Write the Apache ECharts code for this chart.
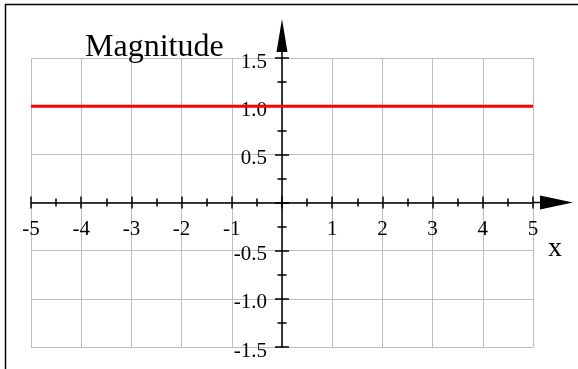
<!DOCTYPE html>
<html>
<head>
<meta charset="utf-8">
<script src="https://cdn.jsdelivr.net/npm/echarts@6/dist/echarts.min.js"></script>
<style>
  html, body { margin: 0; padding: 0; background: #fff; }
  #chart { width: 578px; height: 369px; }
</style>
</head>
<body>
<div id="chart"></div>
<script>
// ---- data ----
const xValues = [-5, 5];
const magnitude = [1, 1];
const xTickValues = [-5, -4, -3, -2, -1, 0, 1, 2, 3, 4, 5];
const xTickLabels = ['-5', '-4', '-3', '-2', '-1', '', '1', '2', '3', '4', '5'];
const yTickValues = [-1.5, -1.0, -0.5, 0, 0.5, 1.0, 1.5];
const yTickLabels = ['-1.5', '-1.0', '-0.5', '', '0.5', '1.0', '1.5'];
const titleText = 'Magnitude';
const xName = 'x';

// ---- layout / styling ----
const FONT = 'Liberation Serif, Times New Roman, serif';
const AXIS_COLOR = '#000';
const GRID_COLOR = '#bdbdbd';
const GRID = { left: 31, right: 45, top: 58, bottom: 22 };
const W = 578, H = 369;
const ARROW_X = 'path://M7,0 L14,33 L7.75,33 L7.75,40 L6.25,40 L6.25,33 L0,33 Z';
const ARROW_Y = 'path://M5.5,0 L11,33 L6.25,33 L6.25,39 L4.75,39 L4.75,33 L0,33 Z';

function labelFor(values, labels) {
  return function (v) {
    for (let i = 0; i < values.length; i++) {
      if (Math.abs(values[i] - v) < 1e-6) return labels[i];
    }
    return '';
  };
}

const xMin = xTickValues[0], xMax = xTickValues[xTickValues.length - 1];
const yMin = yTickValues[0], yMax = yTickValues[yTickValues.length - 1];
const plotW = W - GRID.left - GRID.right;
const plotH = H - GRID.top - GRID.bottom;
// move axes from the grid edges to the zero lines
const xAxisOffset = -plotH * (0 - yMin) / (yMax - yMin);
const yAxisOffset = -plotW * (0 - xMin) / (xMax - xMin);

const chart = echarts.init(document.getElementById('chart'), null, { renderer: 'canvas' });

const tickStyle = { color: AXIS_COLOR, width: 1.5 };

const option = {
  backgroundColor: '#fff',
  animation: false,
  title: [
    { text: titleText, left: 85, top: 32, padding: 0,
      textStyle: { fontFamily: FONT, fontSize: 32, fontWeight: 'normal', color: '#000' } },
    { text: xName, left: 548, top: 235, padding: 0,
      textStyle: { fontFamily: FONT, fontSize: 28, fontWeight: 'normal', color: '#000' } }
  ],
  graphic: [
    { type: 'rect', silent: true, z: -10,
      shape: { x: 5.5, y: 4.5, width: 640, height: 420 },
      style: { fill: 'none', stroke: '#000', lineWidth: 1.5 } }
  ],
  grid: Object.assign({ containLabel: false, outerBoundsMode: 'none' }, GRID),
  xAxis: [
    {
      type: 'value', min: xMin, max: xMax, interval: 1, position: 'bottom', offset: xAxisOffset, z: 1,
      axisLine: { show: true, onZero: false,
        symbol: ['none', ARROW_X], symbolSize: [14, 40], symbolOffset: [0, 20],
        lineStyle: { color: AXIS_COLOR, width: 1.5 } },
      axisTick: { show: true, inside: false, length: 6, lineStyle: tickStyle },
      minorTick: { show: true, splitNumber: 2, length: 4, lineStyle: tickStyle },
      axisLabel: { show: true, margin: 16, formatter: labelFor(xTickValues, xTickLabels),
        fontFamily: FONT, fontSize: 21, color: '#000', showMinLabel: true, showMaxLabel: true,
        hideOverlap: false },
      splitLine: { show: false }
    },
    {
      type: 'value', min: xMin, max: xMax, interval: 1, position: 'bottom', offset: xAxisOffset, z: 0,
      axisLine: { show: false, onZero: false },
      axisTick: { show: true, inside: true, length: 6, lineStyle: tickStyle },
      minorTick: { show: true, splitNumber: 2, length: 4, lineStyle: tickStyle },
      axisLabel: { show: false },
      splitLine: { show: true, lineStyle: { color: GRID_COLOR, width: 1 } }
    }
  ],
  yAxis: [
    {
      type: 'value', min: yMin, max: yMax, interval: 0.5, position: 'left', offset: yAxisOffset, z: 1,
      axisLine: { show: true, onZero: false,
        symbol: ['none', ARROW_Y], symbolSize: [11, 39], symbolOffset: [0, 19.5],
        lineStyle: { color: AXIS_COLOR, width: 1.5 } },
      axisTick: { show: true, inside: false, length: 7, lineStyle: tickStyle },
      minorTick: { show: true, splitNumber: 2, length: 4.5, lineStyle: tickStyle },
      axisLabel: { show: true, margin: 15, formatter: labelFor(yTickValues, yTickLabels),
        fontFamily: FONT, fontSize: 21, color: '#000', verticalAlign: 'top', lineHeight: 8,
        showMinLabel: true, showMaxLabel: true, hideOverlap: false },
      splitLine: { show: false }
    },
    {
      type: 'value', min: yMin, max: yMax, interval: 0.5, position: 'left', offset: yAxisOffset, z: 0,
      axisLine: { show: false, onZero: false },
      axisTick: { show: true, inside: true, length: 7, lineStyle: tickStyle },
      minorTick: { show: true, splitNumber: 2, length: 4.5, lineStyle: tickStyle },
      axisLabel: { show: false },
      splitLine: { show: true, lineStyle: { color: GRID_COLOR, width: 1 } }
    }
  ],
  series: [
    {
      type: 'line', xAxisIndex: 0, yAxisIndex: 0, z: 5,
      data: xValues.map((x, i) => [x, magnitude[i]]),
      showSymbol: false, symbol: 'none',
      lineStyle: { color: '#ff0000', width: 3 },
      silent: true
    }
  ]
};

chart.setOption(option);
</script>
</body>
</html>
